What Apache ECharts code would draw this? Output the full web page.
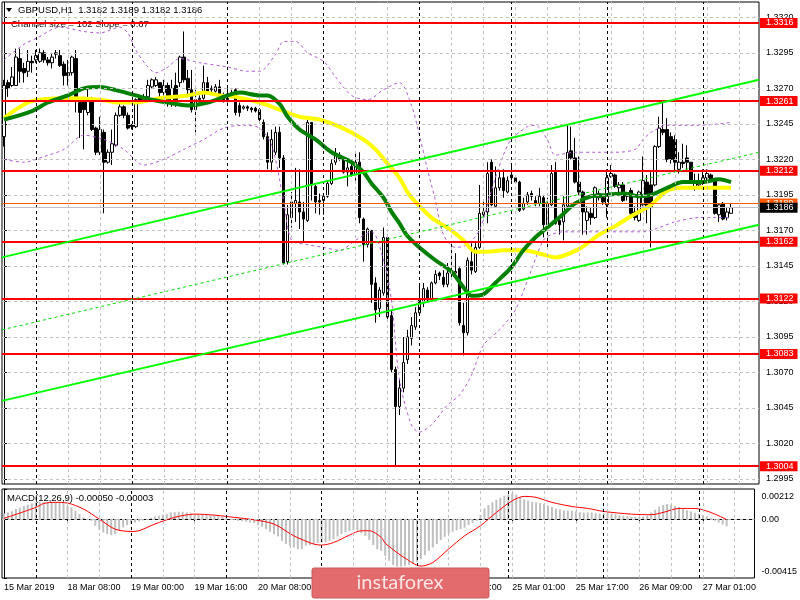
<!DOCTYPE html>
<html><head><meta charset="utf-8">
<script src="https://cdn.jsdelivr.net/npm/echarts@6/dist/echarts.min.js"></script>
<style>html,body{margin:0;padding:0;background:#fff}#c{width:800px;height:600px}</style>
</head><body><div id="c"></div>
<script>
// ---- time axis (H1 bars) ----
const days = [['15 Mar',16,23],['18 Mar',0,23],['19 Mar',0,23],['20 Mar',0,23],['21 Mar',0,23],['22 Mar',0,22],['25 Mar',0,23],['26 Mar',0,23],['27 Mar',0,7]];
const firstLabel = '15 Mar 2019';
const xTickIdx = [0,16,32,48,64,80,96,112,128,144,160,176];
// ---- price levels / ticks ----
const yTicks = [1.2995,1.3020,1.3045,1.3070,1.3095,1.3120,1.3145,1.3170,1.3195,1.3220,1.3245,1.3270,1.3295,1.3320];
const levels = [1.3316,1.3261,1.3212,1.3162,1.3122,1.3083,1.3004];
const askPrice = 1.3189, bidPrice = 1.3186;
const macdTicks = [-0.00415, 0, 0.00212];
// ---- candles ----
const opens = [1.3236,1.3274,1.3272,1.3272,1.3291,1.3284,1.3282,1.3289,1.3290,1.3289,
1.3295,1.3290,1.3288,1.3294,1.3293,1.3287,1.3281,1.3281,1.3291,1.3260,
1.3262,1.3253,1.3262,1.3242,1.3225,1.3239,1.3218,1.3225,1.3230,1.3251,
1.3257,1.3251,1.3244,1.3243,1.3264,1.3262,1.3264,1.3271,1.3272,1.3274,
1.3267,1.3272,1.3260,1.3272,1.3274,1.3292,1.3277,1.3269,1.3255,1.3262,
1.3263,1.3274,1.3269,1.3268,1.3271,1.3265,1.3262,1.3266,1.3269,1.3258,
1.3256,1.3257,1.3256,1.3256,1.3255,1.3246,1.3236,1.3218,1.3225,1.3239,
1.3221,1.3148,1.3179,1.3189,1.3190,1.3183,1.3177,1.3246,1.3201,1.3191,
1.3191,1.3194,1.3203,1.3218,1.3223,1.3220,1.3211,1.3215,1.3209,1.3218,
1.3178,1.3160,1.3170,1.3133,1.3115,1.3126,1.3165,1.3110,1.3072,1.3046,
1.3059,1.3079,1.3094,1.3102,1.3112,1.3119,1.3128,1.3122,1.3133,1.3140,
1.3137,1.3132,1.3141,1.3140,1.3143,1.3103,1.3098,1.3148,1.3141,1.3158,
1.3181,1.3183,1.3218,1.3187,1.3200,1.3207,1.3197,1.3207,1.3207,1.3204,
1.3185,1.3190,1.3196,1.3191,1.3189,1.3193,1.3174,1.3188,1.3211,1.3177,
1.3176,1.3187,1.3226,1.3221,1.3204,1.3197,1.3177,1.3182,1.3179,1.3193,
1.3193,1.3188,1.3208,1.3209,1.3200,1.3202,1.3196,1.3198,1.3183,1.3177,
1.3188,1.3204,1.3202,1.3202,1.3229,1.3241,1.3241,1.3236,1.3234,1.3213,
1.3218,1.3221,1.3218,1.3200,1.3202,1.3203,1.3207,1.3209,1.3205,1.3181,
1.3189,1.3179,1.3182];
const closes = [1.3272,1.3270,1.3278,1.3292,1.3282,1.3281,1.3289,1.3288,1.3293,1.3295,
1.3290,1.3288,1.3292,1.3295,1.3286,1.3279,1.3279,1.3292,1.3262,1.3253,
1.3255,1.3262,1.3241,1.3225,1.3241,1.3218,1.3225,1.3231,1.3251,1.3257,
1.3251,1.3242,1.3243,1.3262,1.3262,1.3264,1.3272,1.3276,1.3276,1.3267,
1.3272,1.3260,1.3270,1.3262,1.3292,1.3276,1.3269,1.3255,1.3262,1.3263,
1.3274,1.3267,1.3270,1.3271,1.3265,1.3262,1.3266,1.3267,1.3253,1.3253,
1.3257,1.3256,1.3255,1.3254,1.3248,1.3236,1.3218,1.3234,1.3239,1.3221,
1.3147,1.3181,1.3190,1.3191,1.3183,1.3178,1.3246,1.3202,1.3190,1.3190,
1.3194,1.3203,1.3217,1.3223,1.3220,1.3211,1.3214,1.3209,1.3218,1.3179,
1.3160,1.3171,1.3132,1.3114,1.3128,1.3165,1.3109,1.3072,1.3046,1.3059,
1.3077,1.3095,1.3103,1.3112,1.3121,1.3129,1.3121,1.3133,1.3139,1.3138,
1.3132,1.3140,1.3140,1.3141,1.3105,1.3098,1.3149,1.3142,1.3158,1.3182,
1.3183,1.3210,1.3188,1.3200,1.3207,1.3198,1.3205,1.3209,1.3204,1.3184,
1.3189,1.3195,1.3194,1.3189,1.3194,1.3174,1.3189,1.3210,1.3175,1.3174,
1.3188,1.3225,1.3221,1.3204,1.3197,1.3183,1.3183,1.3179,1.3200,1.3196,
1.3190,1.3207,1.3210,1.3201,1.3202,1.3191,1.3194,1.3182,1.3179,1.3197,
1.3205,1.3186,1.3186,1.3229,1.3242,1.3239,1.3220,1.3220,1.3218,1.3218,
1.3217,1.3218,1.3204,1.3203,1.3204,1.3207,1.3210,1.3205,1.3182,1.3188,
1.3178,1.3183,1.3186];
const highs = [1.3276,1.3276,1.3285,1.3298,1.3298,1.3288,1.3297,1.3293,1.3297,1.3298,
1.3297,1.3292,1.3295,1.3297,1.3297,1.3289,1.3290,1.3293,1.3297,1.3262,
1.3264,1.3271,1.3264,1.3243,1.3250,1.3241,1.3227,1.3241,1.3253,1.3260,
1.3258,1.3253,1.3245,1.3263,1.3265,1.3266,1.3276,1.3277,1.3278,1.3274,
1.3276,1.3274,1.3276,1.3281,1.3293,1.3310,1.3283,1.3283,1.3269,1.3265,
1.3286,1.3278,1.3272,1.3273,1.3276,1.3267,1.3270,1.3269,1.3270,1.3260,
1.3258,1.3258,1.3257,1.3257,1.3256,1.3248,1.3239,1.3241,1.3243,1.3243,
1.3223,1.3188,1.3197,1.3214,1.3213,1.3190,1.3250,1.3246,1.3202,1.3196,
1.3196,1.3205,1.3220,1.3228,1.3225,1.3222,1.3218,1.3218,1.3225,1.3225,
1.3179,1.3172,1.3170,1.3137,1.3130,1.3172,1.3167,1.3114,1.3074,1.3065,
1.3095,1.3100,1.3109,1.3116,1.3133,1.3133,1.3130,1.3134,1.3142,1.3141,
1.3142,1.3147,1.3161,1.3154,1.3144,1.3119,1.3151,1.3161,1.3162,1.3202,
1.3191,1.3218,1.3220,1.3215,1.3211,1.3213,1.3208,1.3216,1.3209,1.3205,
1.3193,1.3197,1.3198,1.3194,1.3200,1.3195,1.3193,1.3216,1.3218,1.3179,
1.3194,1.3244,1.3243,1.3235,1.3222,1.3198,1.3187,1.3186,1.3201,1.3198,
1.3195,1.3213,1.3216,1.3210,1.3204,1.3204,1.3197,1.3200,1.3187,1.3198,
1.3222,1.3209,1.3211,1.3230,1.3250,1.3260,1.3249,1.3239,1.3237,1.3225,
1.3231,1.3230,1.3218,1.3210,1.3210,1.3213,1.3213,1.3210,1.3207,1.3189,
1.3190,1.3186,1.3189];
const lows = [1.3229,1.3264,1.3271,1.3272,1.3274,1.3274,1.3278,1.3281,1.3288,1.3288,
1.3288,1.3286,1.3284,1.3291,1.3285,1.3272,1.3272,1.3279,1.3253,1.3235,
1.3227,1.3251,1.3240,1.3223,1.3223,1.3182,1.3217,1.3216,1.3229,1.3250,
1.3249,1.3241,1.3241,1.3242,1.3260,1.3261,1.3263,1.3270,1.3271,1.3262,
1.3265,1.3257,1.3257,1.3257,1.3271,1.3274,1.3264,1.3253,1.3239,1.3260,
1.3262,1.3266,1.3267,1.3267,1.3264,1.3260,1.3260,1.3264,1.3251,1.3250,
1.3255,1.3254,1.3253,1.3253,1.3246,1.3234,1.3213,1.3211,1.3223,1.3214,
1.3146,1.3146,1.3172,1.3176,1.3171,1.3162,1.3176,1.3191,1.3182,1.3181,
1.3181,1.3193,1.3202,1.3216,1.3219,1.3210,1.3201,1.3208,1.3205,1.3175,
1.3148,1.3158,1.3119,1.3105,1.3109,1.3124,1.3106,1.3070,1.3004,1.3040,
1.3056,1.3076,1.3089,1.3100,1.3110,1.3116,1.3120,1.3120,1.3132,1.3135,
1.3130,1.3130,1.3137,1.3137,1.3103,1.3082,1.3096,1.3139,1.3140,1.3157,
1.3177,1.3175,1.3187,1.3186,1.3198,1.3193,1.3196,1.3205,1.3203,1.3183,
1.3184,1.3188,1.3191,1.3187,1.3187,1.3165,1.3158,1.3187,1.3174,1.3167,
1.3163,1.3186,1.3220,1.3203,1.3195,1.3167,1.3167,1.3174,1.3178,1.3191,
1.3188,1.3179,1.3207,1.3200,1.3197,1.3190,1.3191,1.3181,1.3177,1.3176,
1.3187,1.3175,1.3158,1.3201,1.3228,1.3237,1.3218,1.3217,1.3211,1.3210,
1.3214,1.3211,1.3203,1.3198,1.3200,1.3202,1.3205,1.3204,1.3181,1.3176,
1.3177,1.3177,1.3182];
// ---- overlays (bar index, price) ----
const maYellow = [[0,1.3249],[7,1.3261],[16,1.3263],[24,1.3262],[29,1.3260],[33,1.3260],[39,1.3263],[46,1.3265],[50,1.3267],[54,1.3265],[58,1.3264],[64,1.3260],[69,1.3255],[74,1.3250],[79,1.3248],[84,1.3243],[90,1.3234],[93,1.3227],[96,1.3217],[99,1.3207],[101,1.3197],[103,1.3190],[107,1.3179],[112,1.3170],[115,1.3163],[118,1.3155],[121,1.3155],[125,1.3156],[130,1.3156],[135,1.3153],[138,1.3151],[144,1.3157],[149,1.3167],[153,1.3173],[157,1.3180],[162,1.3188],[166,1.3198],[170,1.3200],[178,1.3200],[182,1.3200]];
const maGreen = [[0,1.3248],[7,1.3254],[11,1.3260],[16,1.3265],[20,1.3270],[24,1.3271],[29,1.3268],[33,1.3265],[37,1.3262],[41,1.3260],[46,1.3258],[51,1.3260],[56,1.3265],[59,1.3267],[64,1.3265],[66,1.3265],[69,1.3259],[71,1.3250],[74,1.3241],[78,1.3234],[82,1.3225],[87,1.3218],[90,1.3211],[92,1.3203],[95,1.3193],[97,1.3183],[99,1.3175],[101,1.3166],[104,1.3158],[108,1.3149],[112,1.3141],[115,1.3130],[117,1.3124],[120,1.3125],[123,1.3133],[127,1.3144],[130,1.3156],[133,1.3165],[136,1.3172],[139,1.3179],[143,1.3189],[147,1.3194],[151,1.3195],[155,1.3196],[159,1.3194],[162,1.3195],[166,1.3200],[170,1.3204],[175,1.3204],[179,1.3206],[182,1.3204]];
const bandUpper = [[0,1.3290],[5,1.3301],[8,1.3305],[14,1.3313],[20,1.3310],[24,1.3309],[29,1.3313],[31,1.3309],[33,1.3297],[36,1.3285],[38,1.3281],[41,1.3285],[44,1.3291],[49,1.3288],[56,1.3285],[61,1.3282],[64,1.3282],[68,1.3294],[70,1.3303],[73,1.3303],[76,1.3295],[80,1.3289],[83,1.3278],[87,1.3265],[91,1.3262],[95,1.3269],[99,1.3274],[102,1.3258],[104,1.3237],[106,1.3213],[108,1.3191],[110,1.3167],[113,1.3158],[116,1.3160],[119,1.3170],[122,1.3198],[125,1.3223],[127,1.3234],[131,1.3243],[133,1.3244],[136,1.3234],[138,1.3223],[143,1.3225],[148,1.3225],[153,1.3225],[158,1.3227],[160,1.3234],[162,1.3239],[166,1.3244],[174,1.3244],[182,1.3246]];
const bandLower = [[0,1.3220],[5,1.3218],[10,1.3222],[15,1.3227],[20,1.3237],[25,1.3234],[30,1.3227],[35,1.3216],[40,1.3220],[45,1.3227],[50,1.3234],[55,1.3242],[60,1.3244],[64,1.3242],[67,1.3230],[70,1.3191],[72,1.3163],[76,1.3160],[80,1.3158],[84,1.3156],[88,1.3163],[92,1.3169],[95,1.3149],[97,1.3121],[99,1.3065],[102,1.3033],[104,1.3028],[107,1.3033],[111,1.3047],[114,1.3054],[117,1.3068],[120,1.3089],[124,1.3100],[128,1.3114],[132,1.3142],[135,1.3163],[137,1.3167],[140,1.3169],[145,1.3169],[150,1.3169],[155,1.3169],[160,1.3169],[164,1.3172],[168,1.3176],[174,1.3179],[178,1.3179],[182,1.3179]];
const channelUpper = [[-0.5,1.3151],[189,1.3276]];
const channelLower = [[-0.5,1.3050],[189,1.3174]];
const channelMid = [[-0.5,1.3100],[189,1.3225]];
// ---- MACD ----
const macdHist = [0.00040,0.00047,0.00056,0.00071,0.00080,0.00092,0.00101,0.00110,0.00118,0.00122,
0.00122,0.00122,0.00122,0.00120,0.00120,0.00113,0.00094,0.00082,0.00059,0.00035,
0.00012,0.00000,-0.00012,-0.00047,-0.00075,-0.00094,-0.00106,-0.00113,-0.00106,-0.00082,
-0.00059,-0.00042,-0.00031,-0.00024,-0.00016,-0.00009,-0.00002,0.00009,0.00019,0.00024,
0.00031,0.00038,0.00047,0.00049,0.00052,0.00052,0.00047,0.00040,0.00035,0.00033,
0.00031,0.00028,0.00026,0.00024,0.00021,0.00016,0.00009,0.00002,-0.00007,-0.00012,
-0.00014,-0.00019,-0.00024,-0.00028,-0.00042,-0.00054,-0.00071,-0.00089,-0.00106,-0.00122,
-0.00153,-0.00176,-0.00188,-0.00200,-0.00212,-0.00212,-0.00188,-0.00183,-0.00176,-0.00169,
-0.00165,-0.00162,-0.00153,-0.00141,-0.00122,-0.00106,-0.00094,-0.00085,-0.00075,-0.00082,
-0.00099,-0.00118,-0.00146,-0.00183,-0.00212,-0.00223,-0.00259,-0.00294,-0.00324,-0.00334,
-0.00334,-0.00329,-0.00322,-0.00313,-0.00301,-0.00282,-0.00254,-0.00223,-0.00200,-0.00176,
-0.00148,-0.00125,-0.00101,-0.00089,-0.00078,-0.00071,-0.00061,-0.00042,-0.00028,-0.00012,
0.00028,0.00075,0.00099,0.00118,0.00136,0.00150,0.00165,0.00174,0.00181,0.00172,
0.00155,0.00139,0.00129,0.00122,0.00118,0.00113,0.00106,0.00096,0.00085,0.00073,
0.00068,0.00061,0.00059,0.00059,0.00054,0.00049,0.00047,0.00047,0.00047,0.00042,
0.00038,0.00042,0.00047,0.00040,0.00035,0.00028,0.00024,0.00019,0.00014,0.00016,
0.00014,0.00019,0.00024,0.00047,0.00066,0.00087,0.00099,0.00106,0.00101,0.00092,
0.00085,0.00075,0.00063,0.00054,0.00045,0.00038,0.00028,0.00019,0.00007,-0.00012,
-0.00024,-0.00038,-0.00050];
const macdSignal = [[0,0.00005],[8,0.00082],[10,0.00110],[13,0.00118],[16,0.00113],[20,0.00071],[24,0.00000],[28,-0.00071],[32,-0.00087],[34,-0.00082],[38,-0.00035],[43,0.00012],[48,0.00035],[53,0.00028],[58,0.00012],[63,-0.00005],[68,-0.00035],[73,-0.00118],[78,-0.00176],[80,-0.00183],[83,-0.00165],[87,-0.00113],[90,-0.00082],[92,-0.00082],[95,-0.00129],[96,-0.00169],[98,-0.00215],[101,-0.00275],[105,-0.00331],[108,-0.00306],[112,-0.00210],[116,-0.00118],[120,-0.00047],[124,0.00047],[128,0.00129],[131,0.00160],[134,0.00153],[138,0.00118],[143,0.00089],[147,0.00075],[151,0.00054],[158,0.00035],[163,0.00031],[166,0.00047],[170,0.00075],[174,0.00075],[178,0.00047],[182,-0.00003]];

// ---------------- build ----------------
const FONT = '"Liberation Sans", Arial, sans-serif';
const barTimes = [];
days.forEach(([d, h0, h1]) => { for (let h = h0; h <= h1; h++) barTimes.push([d, h]); });
const labelAt = v => {
  const k = Math.round(v);
  if (k === 0) return firstLabel;
  const t = barTimes[k]; if (!t) return '';
  return t[0] + ' ' + String(t[1]).padStart(2, '0') + ':00';
};
const dayStarts = barTimes.map((t, i) => t[1] === 0 ? i : -1).filter(i => i > 0);
const grayV = [];
for (let k = 8; k <= 188; k += 8) if (dayStarts.indexOf(k) < 0) grayV.push(k);

const candleData = opens.map((o, i) => [i, o, closes[i], lows[i], highs[i]]);
const histData = macdHist.map((v, i) => [i, v]);

const gray = {color: '#c0c0c0', type: [3, 3], width: 1};
const blackDash = {color: '#000', type: [3, 3], width: 1};
const vLines = grayV.map(k => ({xAxis: k, lineStyle: gray})).concat(dayStarts.map(k => ({xAxis: k, lineStyle: blackDash})));
const mlBase = {silent: true, symbol: ['none', 'none'], precision: 6, label: {show: false}, animation: false, emphasis: {disabled: true}};

const lvlLabel = (bg, fg) => ({show: true, position: 'end', distance: 1, formatter: p => Number(p.value).toFixed(4),
  color: fg, backgroundColor: bg, padding: [1, 4, 0, 6], fontSize: 9, lineHeight: 9, fontFamily: FONT});

const lineS = (data, color, width, extra) => Object.assign({type: 'line', data, xAxisIndex: 0, yAxisIndex: 0, showSymbol: false, symbol: 'none', silent: true, lineStyle: {color, width}, animation: false}, extra || {});

const option = {
  animation: false,
  backgroundColor: '#ffffff',
  textStyle: {fontFamily: FONT},
  grid: [
    {left: 2, right: 41, top: 2, bottom: 116, show: true, borderColor: '#000', borderWidth: 1, backgroundColor: 'transparent'},
    {left: 2, right: 41, top: 489, bottom: 22, show: true, borderColor: '#000', borderWidth: 1, backgroundColor: 'transparent'}
  ],
  xAxis: [
    {type: 'value', gridIndex: 0, min: -0.5, max: 189, axisLine: {show: false}, axisTick: {show: false}, axisLabel: {show: false}, splitLine: {show: false}},
    {type: 'value', gridIndex: 1, min: -0.5, max: 189, axisLine: {show: true, lineStyle: {color: '#000'}},
     axisTick: {show: true, length: 3, customValues: xTickIdx, lineStyle: {color: '#000'}},
     axisLabel: {show: true, customValues: xTickIdx, formatter: labelAt, align: 'left', margin: 5, fontSize: 9, color: '#000', fontFamily: FONT},
     splitLine: {show: false}}
  ],
  yAxis: [
    {type: 'value', gridIndex: 0, position: 'right', min: 1.299148, max: 1.333077, scale: true,
     axisLine: {show: true, lineStyle: {color: '#000'}},
     axisTick: {show: true, length: 3, customValues: yTicks, lineStyle: {color: '#000'}},
     axisLabel: {customValues: yTicks, formatter: v => v.toFixed(4), margin: 7, fontSize: 9, color: '#000', fontFamily: FONT},
     splitLine: {show: false}},
    {type: 'value', gridIndex: 1, position: 'right', min: -0.00415, max: 0.00212,
     axisLine: {show: true, lineStyle: {color: '#000'}},
     axisTick: {show: true, length: 3, customValues: macdTicks, lineStyle: {color: '#000'}},
     axisLabel: {customValues: macdTicks, margin: 7, fontSize: 9, color: '#000', fontFamily: FONT,
       formatter: v => v === macdTicks[2] ? '{t|' + v.toFixed(5) + '}' : (v === macdTicks[0] ? '{b|' + v.toFixed(5) + '}' : v.toFixed(2)),
       rich: {t: {padding: [15, 0, 0, 0], fontSize: 9, fontFamily: FONT}, b: {padding: [0, 0, 13, 0], fontSize: 9, fontFamily: FONT}}},
     splitLine: {show: false}}
  ],
  graphic: [
    {type: 'polygon', shape: {points: [[6, 8], [12, 8], [9, 12]]}, style: {fill: '#000'}, z: 0},
    {type: 'text', left: 18, top: 5, style: {text: 'GBPUSD,H1  1.3182 1.3189 1.3182 1.3186', fill: '#000', font: '9.5px ' + FONT}, z: 0},
    {type: 'text', left: 11, top: 19, style: {text: 'Channel size = 102 Slope = 0.67', fill: '#111', font: '9.5px ' + FONT}, z: 0},
    {type: 'text', left: 7, top: 493, style: {text: 'MACD(12,26,9) -0.00050 -0.00003', fill: '#000', font: '9.5px ' + FONT}, z: 0},
    {type: 'rect', shape: {x: 312, y: 568, width: 177, height: 30, r: 2}, style: {fill: '#e36b6e', stroke: '#c85a5d', lineWidth: 1}, z: 100},
    {type: 'text', x: 400, y: 583, style: {text: 'instaforex', fill: '#fbe4e4', font: '20px Lato, "Liberation Sans", sans-serif', align: 'center', verticalAlign: 'middle'}, z: 101}
  ],
  series: [
    // main panel grid lines
    {type: 'line', data: [], xAxisIndex: 0, yAxisIndex: 0, z: 1, silent: true,
     markLine: Object.assign({}, mlBase, {data: yTicks.map(v => ({yAxis: v, lineStyle: gray})).concat(vLines)})},
    {type: 'candlestick', xAxisIndex: 0, yAxisIndex: 0, z: 2, data: candleData, barWidth: 3, silent: true,
     itemStyle: {color: '#ffffff', color0: '#000000', borderColor: '#000000', borderColor0: '#000000', borderWidth: 1}},
    lineS(bandUpper, '#b25bd6', 1, {z: 3, smooth: 0.3, lineStyle: {color: '#b25bd6', width: 1, type: [3, 3]}}),
    lineS(bandLower, '#b25bd6', 1, {z: 3, smooth: 0.3, lineStyle: {color: '#b25bd6', width: 1, type: [3, 3]}}),
    lineS(maYellow, '#ffff00', 4, {z: 4, smooth: 0.3}),
    lineS(maGreen, '#008000', 4, {z: 4, smooth: 0.3}),
    lineS(channelMid, '#00ff00', 1, {z: 5, lineStyle: {color: '#00e000', width: 1, type: [3, 3]}}),
    lineS(channelUpper, '#00ff00', 2, {z: 5}),
    lineS(channelLower, '#00ff00', 2, {z: 5}),
    // horizontal levels
    {type: 'line', data: [], xAxisIndex: 0, yAxisIndex: 0, z: 6, silent: true,
     markLine: Object.assign({}, mlBase, {data: [
       {yAxis: askPrice, lineStyle: {color: '#ff5a00', width: 1, type: 'solid'}, label: lvlLabel('#ff5a00', '#fff')},
       {yAxis: bidPrice, lineStyle: {color: '#c0c0c0', width: 1, type: 'solid'}, label: lvlLabel('#000', '#fff')}
     ].concat(levels.map(v => ({yAxis: v, lineStyle: {color: '#ff0000', width: 2, type: 'solid'}, label: lvlLabel('#ff0000', '#fff')})))})},
    // MACD panel
    {type: 'line', data: [], xAxisIndex: 1, yAxisIndex: 1, z: 1, silent: true,
     markLine: Object.assign({}, mlBase, {data: [{yAxis: 0, lineStyle: gray}].concat(vLines)})},
    {type: 'bar', xAxisIndex: 1, yAxisIndex: 1, z: 2, data: histData, barWidth: 2, silent: true, itemStyle: {color: '#c0c0c0'}},
    {type: 'line', xAxisIndex: 1, yAxisIndex: 1, z: 3, data: macdSignal, showSymbol: false, symbol: 'none', smooth: 0.3, silent: true, lineStyle: {color: '#ff0000', width: 1}}
  ]
};
const chart = echarts.init(document.getElementById('c'), null, {renderer: 'canvas'});
chart.setOption(option);
</script></body></html>
